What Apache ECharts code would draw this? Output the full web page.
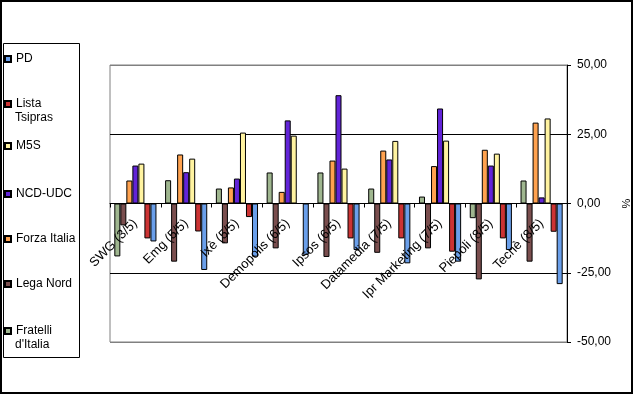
<!DOCTYPE html>
<html>
<head>
<meta charset="utf-8">
<script src="https://cdn.jsdelivr.net/npm/echarts@6/dist/echarts.min.js"></script>
<style>
html,body{margin:0;padding:0;background:#fff;}
#c{width:636px;height:396px;}
</style>
</head>
<body>
<div id="c"></div>
<script>
// Categories (poll institutes)
const categories = ['SWG (3/5)', 'Emg (5/5)', 'Ixè (5/5)', 'Demopolis (6/5)', 'Ipsos (6/5)', 'Datamedia (7/5)', 'Ipr Marketing (7/5)', 'Piepoli (8/5)', 'Tecnè (8/5)'];

// Series values (%)
const fratelli = [-19.1, 8.4, 5.4, 11.2, 11.2, 5.4, 2.5, -5.3, 8.3];
const lega = [-7.9, -21.0, -14.4, -16.2, -19.3, -17.8, -16.2, -27.4, -21.0];
const forza = [8.3, 17.7, 5.8, 4.2, 15.5, 19.1, 13.5, 19.4, 29.2];
const ncd = [13.7, 11.3, 9.0, 30.0, 39.1, 15.9, 34.3, 13.7, 2.2];
const m5s = [14.4, 16.2, 25.6, 24.5, 12.6, 22.6, 22.7, 18.0, 30.7];
const lista = [-12.6, -10.1, -4.9, null, -12.6, -12.6, -17.4, -12.6, -10.2];
const pd = [-13.7, -24.0, -19.2, -18.5, -16.8, -21.6, -21.0, -16.8, -29.1];

// Value axis ticks
const yMin = -50, yMax = 50, yStep = 25;

const FONT = 'Liberation Sans';
const seriesDefs = [
  {name: 'Fratelli d\'Italia', data: fratelli, color: '#9FB68F'},
  {name: 'Lega Nord', data: lega, color: '#7A4E4E'},
  {name: 'Forza Italia', data: forza, color: '#FFA24F'},
  {name: 'NCD-UDC', data: ncd, color: '#6224D8'},
  {name: 'M5S', data: m5s, color: '#FFF3A0'},
  {name: 'Lista Tsipras', data: lista, color: '#CC3333'},
  {name: 'PD', data: pd, color: '#6A9FEA'}
];

// legend entries (top to bottom) with first-line label and optional second line
const legendItems = [
  {name: 'PD', first: 'PD', second: null, cy: 59},
  {name: 'Lista Tsipras', first: 'Lista', second: 'Tsipras', cy: 104},
  {name: 'M5S', first: 'M5S', second: null, cy: 146},
  {name: 'NCD-UDC', first: 'NCD-UDC', second: null, cy: 194},
  {name: 'Forza Italia', first: 'Forza Italia', second: null, cy: 239},
  {name: 'Lega Nord', first: 'Lega Nord', second: null, cy: 284},
  {name: 'Fratelli d\'Italia', first: 'Fratelli', second: 'd\'Italia', cy: 331}
];

const legends = legendItems.map(it => ({
  data: [it.name],
  left: 4,
  top: it.cy - 7,
  padding: 0,
  itemWidth: 6,
  itemHeight: 6,
  icon: 'rect',
  selectedMode: false,
  formatter: () => it.first,
  textStyle: {fontFamily: FONT, fontSize: 12, color: '#000', lineHeight: 14}
}));

const graphics = [
  {type: 'rect', silent: true, z: 100, shape: {x: 1, y: 1, width: 631, height: 392}, style: {fill: 'none', stroke: '#000', lineWidth: 2}},
  {type: 'rect', silent: true, z: 100, shape: {x: 3.5, y: 43.5, width: 76, height: 314}, style: {fill: 'none', stroke: '#000', lineWidth: 1}}
];
legendItems.forEach(it => {
  if (it.second) {
    graphics.push({type: 'text', silent: true, z: 100, style: {text: it.second, x: 15, y: it.cy + 14, font: '12px "' + FONT + '"', fill: '#000', verticalAlign: 'middle'}});
  }
});

const GRID = {left: 110, right: 69, top: 65, bottom: 54};
const plotH = 396 - GRID.top - GRID.bottom;
// move the category axis (line, ticks, labels) up to the value 0
const zeroOffset = -plotH * (0 - yMin) / (yMax - yMin);

const chart = echarts.init(document.getElementById('c'), null, {renderer: 'canvas'});
chart.setOption({
  animation: false,
  backgroundColor: '#fff',
  legend: legends,
  graphic: graphics,
  grid: Object.assign({show: true, borderColor: '#808080', borderWidth: 1, backgroundColor: 'transparent', containLabel: false, outerBoundsMode: 'none'}, GRID),
  xAxis: {
    type: 'category',
    data: categories,
    position: 'bottom',
    offset: zeroOffset,
    zlevel: 1,
    z: 10,
    axisLine: {onZero: false, lineStyle: {color: '#000', width: 1}},
    axisTick: {show: true, length: 4, lineStyle: {color: '#000'}},
    axisLabel: {interval: 0, rotate: 45, margin: 18, fontFamily: FONT, fontSize: 13, color: '#000'},
    splitLine: {show: false}
  },
  yAxis: {
    type: 'value',
    position: 'right',
    min: yMin, max: yMax, interval: yStep,
    name: '%',
    nameLocation: 'middle',
    nameGap: 52,
    nameRotate: 90,
    nameTextStyle: {fontFamily: FONT, fontSize: 11, color: '#000'},
    axisLine: {show: true, lineStyle: {color: '#000', width: 1}},
    axisTick: {show: true, length: 4, lineStyle: {color: '#000'}},
    axisLabel: {margin: 10, fontFamily: FONT, fontSize: 12, color: '#000', formatter: v => v.toFixed(2).replace('.', ',')},
    splitLine: {show: true, lineStyle: {color: ['#808080', '#000', '#000', '#000', '#808080'], width: 1}}
  },
  series: seriesDefs.map(s => ({
    name: s.name,
    type: 'bar',
    data: s.data,
    barGap: '0%',
    barCategoryGap: '17%',
    itemStyle: {color: s.color, borderColor: '#000', borderWidth: 1}
  }))
});
</script>
</body>
</html>
